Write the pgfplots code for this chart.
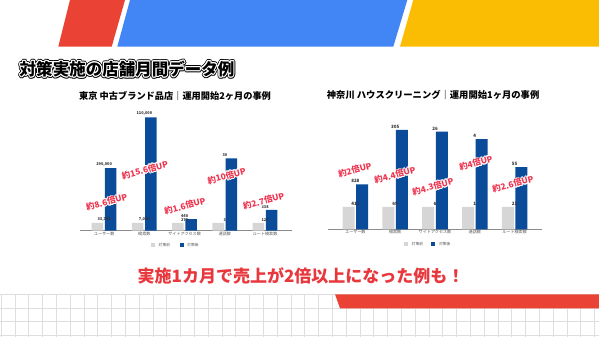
\documentclass[border=0pt]{standalone}
\usepackage{fontspec}
\setmainfont{Noto Sans CJK JP}
\usepackage{pgfplots}
\pgfplotsset{compat=1.18}
\usepackage{pgfplotstable}
\definecolor{gbar}{HTML}{D6D6D6}
\definecolor{bbar}{HTML}{0B4C9A}
\definecolor{annred}{HTML}{EE3550}
\definecolor{gred}{HTML}{EA4335}
\definecolor{gblue}{HTML}{4285F4}
\definecolor{gyellow}{HTML}{FBBC04}
\definecolor{bottomred}{HTML}{E8383D}

\pgfplotstableread{
x pre post prel postl
0 0.33 2.68 33,742 290,000
1 0.33 4.86 7,029 110,000
2 0.33 0.50 279 440
3 0.33 3.10 3 30
4 0.33 0.89 123 338
}\lefttab
\pgfplotstableread{
x pre post prel postl
0 1 2.00 411 828
1 1 4.41 69 305
2 1 4.34 6 26
3 1 4.00 1 4
4 1 2.76 21 55
}\righttab

\pgfplotsset{
  mychart/.style={
    scale only axis, anchor=south west,
    ymin=0, ymax=5, ytick={0,1,2,3,4,5}, yticklabels={},
    ymajorgrids, grid style={black!12, line width=0.6pt},
    axis x line*=bottom, axis y line=none,
    x axis line style={black!45, line width=0.6pt, -},
    xtick={0,1,2,3,4},
    xticklabels={ユーザー数,検索数,サイトアクセス数,通話数,ルート検索数},
    xticklabel style={font=\fontsize{4.1}{4.1}\selectfont, text=black!65, inner sep=1pt},
    major tick length=0pt, xtick style={draw=none},
    nodes near coords style={font=\bfseries\fontsize{#1}{#1}\selectfont, text=black!80, inner sep=1.2pt},
    clip=false,
  }
}

\newcommand{\annot}[3]{%
  \foreach \a in {0,30,...,330}{\node[rotate=15, shift={(\a:0.9pt)}, text=white, font=\bfseries\fontsize{8.4}{8.4}\selectfont] at (#1,#2) {#3};}
  \node[rotate=15, text=annred, font=\bfseries\fontsize{8.4}{8.4}\selectfont] at (#1,#2) {#3};
}

\begin{document}
\begin{tikzpicture}
\begin{scope}[x=1pt,y=1pt]
\useasboundingbox (0,0) rectangle (599,337);
\fill[white] (0,0) rectangle (599,337);
% bottom grid
\foreach \k in {0,...,43}{\draw[black!13, line width=0.5pt] (1+13.8*\k,0) -- (1+13.8*\k,42.7);}
\foreach \yy in {42.7,29,15.3,1.6}{\draw[black!13, line width=0.5pt] (0,\yy) -- (599,\yy);}
\fill[gred] (335,42.7) -- (599,42.7) -- (599,28.7) -- (340,28.7) -- cycle;
% top shapes
\fill[gred] (58.3,290.3) -- (111.7,290.3) -- (125,337) -- (70,337) -- cycle;
\fill[gblue] (117.3,290.3) -- (393.3,290.3) -- (407.3,337) -- (130,337) -- cycle;
\fill[gyellow] (400,290.3) -- (599,290.3) -- (599,337) -- (413.3,337) -- cycle;
% title
\foreach \a in {0,30,...,330}{\node[shift={(\a:2.0pt)}, text=black, font=\bfseries\fontsize{16.5}{16.5}\selectfont] at (127,268) {対策実施の店舗月間データ例};}
\foreach \a in {0,30,...,330}{\node[shift={(\a:1.1pt)}, text=white, font=\bfseries\fontsize{16.5}{16.5}\selectfont] at (127,268) {対策実施の店舗月間データ例};}
\node[text=black, font=\bfseries\fontsize{16.5}{16.5}\selectfont] at (127,268) {対策実施の店舗月間データ例};
% subtitles
\node[anchor=west, font=\bfseries\fontsize{9.2}{9.2}\selectfont, inner sep=0pt] at (79,240.5) {東京 中古ブランド品店｜運用開始2ヶ月の事例};
\node[anchor=west, font=\bfseries\fontsize{9.3}{9.3}\selectfont, inner sep=0pt] at (326.7,242) {神奈川 ハウスクリーニング｜運用開始1ヶ月の事例};
\end{scope}

\begin{axis}[mychart=3.9, at={(80pt,106.3pt)}, width=211.7pt, height=116.7pt, xmin=-0.6, xmax=4.66]
\addplot[ybar, bar width=11.5pt, bar shift=6.5pt, fill=bbar, draw=none, nodes near coords, point meta=explicit symbolic] table[x=x, y=post, meta=postl] {\lefttab};
\addplot[ybar, bar width=11.5pt, bar shift=-6.8pt, fill=gbar, draw=none, nodes near coords, point meta=explicit symbolic] table[x=x, y=pre, meta=prel] {\lefttab};
\end{axis}

\begin{axis}[mychart=4.5, at={(328.3pt,107.7pt)}, width=213.4pt, height=112.6pt, xmin=-0.68, xmax=4.68]
\addplot[ybar, bar width=12pt, bar shift=6.8pt, fill=bbar, draw=none, nodes near coords, point meta=explicit symbolic] table[x=x, y=post, meta=postl] {\righttab};
\addplot[ybar, bar width=12pt, bar shift=-6.8pt, fill=gbar, draw=none, nodes near coords, point meta=explicit symbolic] table[x=x, y=pre, meta=prel] {\righttab};
\end{axis}

\begin{scope}[x=1pt,y=1pt]
% legends
\fill[gbar] (151.2,90.2) rectangle (155,94);
\node[anchor=west, font=\fontsize{3.8}{3.8}\selectfont, text=black!65, inner sep=0pt] at (158.5,92.1) {対策前};
\fill[bbar] (179.8,90.2) rectangle (183.6,94);
\node[anchor=west, font=\fontsize{3.8}{3.8}\selectfont, text=black!65, inner sep=0pt] at (187,92.1) {対策後};
\fill[gbar] (404.2,90.8) rectangle (408,94.6);
\node[anchor=west, font=\fontsize{3.8}{3.8}\selectfont, text=black!65, inner sep=0pt] at (411.5,92.7) {対策前};
\fill[bbar] (431.4,90.8) rectangle (435.2,94.6);
\node[anchor=west, font=\fontsize{3.8}{3.8}\selectfont, text=black!65, inner sep=0pt] at (438.8,92.7) {対策後};

% annotations
\annot{106.7}{135}{約8.6倍UP}
\annot{145}{167}{約15.6倍UP}
\annot{185}{131}{約1.6倍UP}
\annot{226.7}{161}{約10倍UP}
\annot{263.7}{136}{約2.7倍UP}
\annot{355}{167}{約2倍UP}
\annot{395}{162}{約4.4倍UP}
\annot{433}{150.3}{約4.3倍UP}
\annot{476}{174}{約4倍UP}
\annot{513}{153}{約2.6倍UP}

% bottom message
\node[text=bottomred, font=\bfseries\fontsize{17}{17}\selectfont] at (301,61) {実施1カ月で売上が2倍以上になった例も！};
\end{scope}
\end{tikzpicture}
\end{document}
